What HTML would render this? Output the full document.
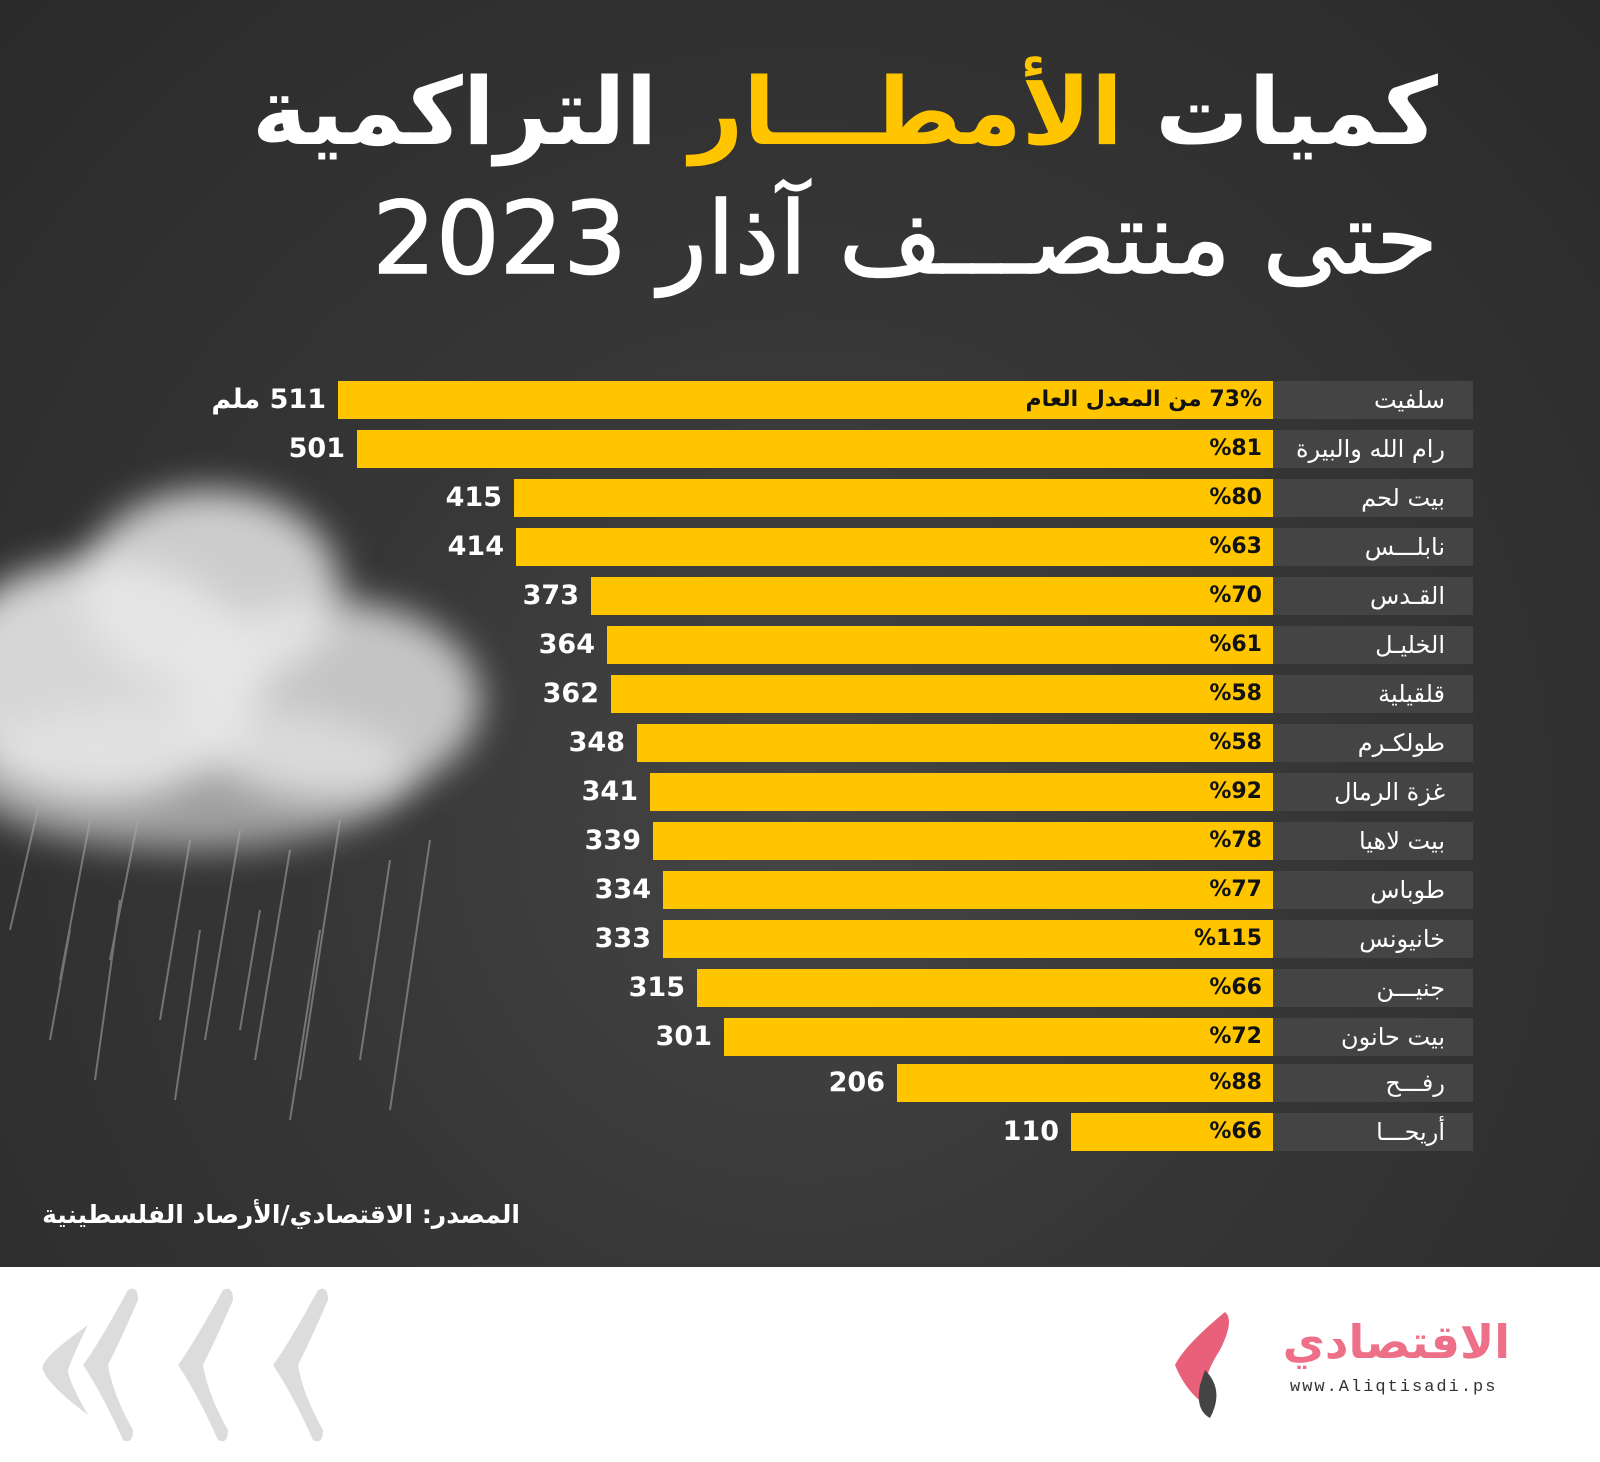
<!DOCTYPE html>
<html><head><meta charset="utf-8"><style>
html,body{margin:0;padding:0}
body{width:1600px;height:1462px;position:relative;overflow:hidden;background:#fff;font-family:"DejaVu Sans","Liberation Sans",sans-serif}
#dark{position:absolute;left:0;top:0;width:1600px;height:1267px;background:radial-gradient(ellipse at 50% 65%,#454545 0%,#363636 45%,#2a2a2a 100%);overflow:hidden}
.t{position:absolute;right:162px;color:#fff;white-space:nowrap;direction:rtl}
.row{position:absolute;height:38px}
.lab{position:absolute;left:1273px;width:200px;height:38px;background:#444;}
.lab span{position:absolute;right:28px;top:5px;color:#fff;font-size:24px;direction:rtl;white-space:nowrap}
.bar{position:absolute;height:38px;background:#ffc600}
.pc{position:absolute;right:338px;top:6px;font-size:22px;font-weight:bold;color:#111;direction:rtl;white-space:nowrap}
.val{position:absolute;top:3px;font-size:27px;font-weight:bold;color:#fff;text-align:right;width:200px;white-space:nowrap}
.cl{position:absolute;border-radius:50%;background:#e8e8e8;filter:blur(18px)}
</style></head><body>
<div id="dark">
<div class="cl" style="left:-60px;top:560px;width:320px;height:240px;opacity:.9"></div>
<div class="cl" style="left:80px;top:490px;width:260px;height:200px;opacity:.85"></div>
<div class="cl" style="left:180px;top:600px;width:300px;height:200px;opacity:.8"></div>
<div class="cl" style="left:-40px;top:700px;width:450px;height:150px;opacity:.6"></div>
<svg style="position:absolute;left:0;top:780px" width="520" height="360">
<g stroke="#aaa" stroke-width="2" opacity=".55">
<line x1="40" y1="20" x2="10" y2="150"/><line x1="90" y1="40" x2="60" y2="200"/><line x1="140" y1="30" x2="110" y2="180"/><line x1="190" y1="60" x2="160" y2="240"/><line x1="240" y1="50" x2="205" y2="260"/><line x1="290" y1="70" x2="255" y2="280"/><line x1="340" y1="40" x2="300" y2="300"/><line x1="390" y1="80" x2="360" y2="280"/><line x1="430" y1="60" x2="390" y2="330"/><line x1="120" y1="120" x2="95" y2="300"/><line x1="200" y1="150" x2="175" y2="320"/><line x1="70" y1="150" x2="50" y2="260"/><line x1="320" y1="150" x2="290" y2="340"/><line x1="260" y1="130" x2="240" y2="250"/>
</g></svg>
<div class="t" style="top:58px;font-size:93px;font-weight:bold">كميات <span style="color:#ffc600">الأمطـــار</span> التراكمية</div>
<div class="t" style="top:180px;font-size:100px;font-weight:500;-webkit-text-stroke:1.5px #fff">حتى منتصـــف آذار 2023</div>

<div class="row" style="top:381px;left:0;width:1600px"><div class="bar" style="left:338px;width:935px"></div><div class="pc">73% من المعدل العام</div><div class="val" style="left:126px;direction:rtl;text-align:right">511 ملم</div><div class="lab"><span>سلفيت</span></div></div>
<div class="row" style="top:430px;left:0;width:1600px"><div class="bar" style="left:357px;width:916px"></div><div class="pc">%81</div><div class="val" style="left:145px">501</div><div class="lab"><span>رام الله والبيرة</span></div></div>
<div class="row" style="top:479px;left:0;width:1600px"><div class="bar" style="left:514px;width:759px"></div><div class="pc">%80</div><div class="val" style="left:302px">415</div><div class="lab"><span>بيت لحم</span></div></div>
<div class="row" style="top:528px;left:0;width:1600px"><div class="bar" style="left:516px;width:757px"></div><div class="pc">%63</div><div class="val" style="left:304px">414</div><div class="lab"><span>نابلـــس</span></div></div>
<div class="row" style="top:577px;left:0;width:1600px"><div class="bar" style="left:591px;width:682px"></div><div class="pc">%70</div><div class="val" style="left:379px">373</div><div class="lab"><span>القـدس</span></div></div>
<div class="row" style="top:626px;left:0;width:1600px"><div class="bar" style="left:607px;width:666px"></div><div class="pc">%61</div><div class="val" style="left:395px">364</div><div class="lab"><span>الخليـل</span></div></div>
<div class="row" style="top:675px;left:0;width:1600px"><div class="bar" style="left:611px;width:662px"></div><div class="pc">%58</div><div class="val" style="left:399px">362</div><div class="lab"><span>قلقيلية</span></div></div>
<div class="row" style="top:724px;left:0;width:1600px"><div class="bar" style="left:637px;width:636px"></div><div class="pc">%58</div><div class="val" style="left:425px">348</div><div class="lab"><span>طولكـرم</span></div></div>
<div class="row" style="top:773px;left:0;width:1600px"><div class="bar" style="left:650px;width:623px"></div><div class="pc">%92</div><div class="val" style="left:438px">341</div><div class="lab"><span>غزة الرمال</span></div></div>
<div class="row" style="top:822px;left:0;width:1600px"><div class="bar" style="left:653px;width:620px"></div><div class="pc">%78</div><div class="val" style="left:441px">339</div><div class="lab"><span>بيت لاهيا</span></div></div>
<div class="row" style="top:871px;left:0;width:1600px"><div class="bar" style="left:663px;width:610px"></div><div class="pc">%77</div><div class="val" style="left:451px">334</div><div class="lab"><span>طوباس</span></div></div>
<div class="row" style="top:920px;left:0;width:1600px"><div class="bar" style="left:663px;width:610px"></div><div class="pc">%115</div><div class="val" style="left:451px">333</div><div class="lab"><span>خانيونس</span></div></div>
<div class="row" style="top:969px;left:0;width:1600px"><div class="bar" style="left:697px;width:576px"></div><div class="pc">%66</div><div class="val" style="left:485px">315</div><div class="lab"><span>جنيـــن</span></div></div>
<div class="row" style="top:1018px;left:0;width:1600px"><div class="bar" style="left:724px;width:549px"></div><div class="pc">%72</div><div class="val" style="left:512px">301</div><div class="lab"><span>بيت حانون</span></div></div>
<div class="row" style="top:1064px;left:0;width:1600px"><div class="bar" style="left:897px;width:376px"></div><div class="pc">%88</div><div class="val" style="left:685px">206</div><div class="lab"><span>رفـــح</span></div></div>
<div class="row" style="top:1113px;left:0;width:1600px"><div class="bar" style="left:1071px;width:202px"></div><div class="pc">%66</div><div class="val" style="left:859px">110</div><div class="lab"><span>أريحـــا</span></div></div>

<div style="position:absolute;left:34px;top:1200px;width:486px;text-align:right;color:#fff;font-size:25px;font-weight:bold;direction:rtl;white-space:nowrap">المصدر: الاقتصادي/الأرصاد الفلسطينية</div>
</div>
<svg style="position:absolute;left:38px;top:1285px" width="300" height="160">
<g fill="#dcdcdc">
<path d="M90 5 Q60 60 45 80 Q65 110 85 155 Q95 160 95 145 Q75 110 70 80 Q85 50 100 15 Q100 0 90 5Z"/>
<path d="M185 5 Q155 60 140 80 Q160 110 180 155 Q190 160 190 145 Q170 110 165 80 Q180 50 195 15 Q195 0 185 5Z"/>
<path d="M280 5 Q250 60 235 80 Q255 110 275 155 Q285 160 285 145 Q265 110 260 80 Q275 50 290 15 Q290 0 280 5Z"/>
<path d="M50 40 Q0 75 5 85 Q10 100 50 130 Q30 95 30 85 Q35 70 50 40Z"/>
</g></svg>
<svg style="position:absolute;left:1165px;top:1310px" width="80" height="110">
<path d="M60 2 Q70 10 55 40 Q35 70 40 95 Q20 80 10 55 Q20 35 60 2Z" fill="#e8607a"/>
<path d="M40 60 Q60 80 45 108 Q30 100 35 75Z" fill="#444"/>
</svg>
<div style="position:absolute;left:1240px;top:1315px;width:270px;text-align:right;font-size:46px;font-weight:bold;color:#ee6f88;direction:rtl">الاقتصادي</div>
<div style="position:absolute;left:1290px;top:1378px;font-size:17px;color:#333;letter-spacing:2px;font-family:'Liberation Mono',monospace">www.Aliqtisadi.ps</div>
</body></html>
